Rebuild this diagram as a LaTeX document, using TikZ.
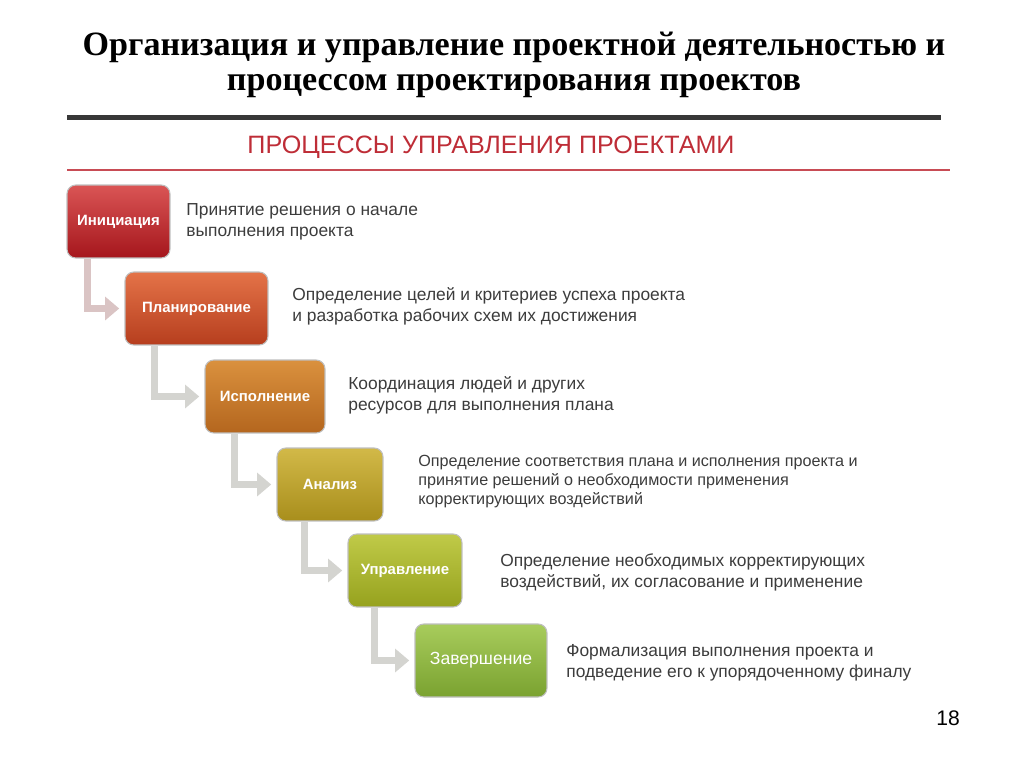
\documentclass[tikz,border=0pt]{standalone}
\usepackage{fontspec}
\setmainfont{Liberation Serif}
\setsansfont{Liberation Sans}
\usetikzlibrary{arrows.meta}
\definecolor{slidered}{RGB}{190,45,55}
\definecolor{desctext}{RGB}{60,60,60}
\definecolor{pinkarrow}{RGB}{218,196,196}
\definecolor{grayarrow}{RGB}{212,212,208}
\begin{document}
\begin{tikzpicture}[x=0.02cm, y=-0.02cm,
    stage/.style={rounded corners=5pt, draw=white!75!black, line width=0.6pt,
        minimum height=1.46cm, inner sep=2pt,
        text=white, font=\sffamily\bfseries\fontsize{8.5}{10}\selectfont},
    desc/.style={anchor=west, align=left, inner sep=0pt, text=desctext,
        font=\sffamily\fontsize{9.9}{12}\selectfont},
    flow/.style={draw=grayarrow, line width=4.4pt, shorten >=3pt,
        -{Triangle[length=8pt, width=13pt]}}]
    \useasboundingbox (0,0) rectangle (1024,767);
    \node (title) at (514,65) [align=center, font=\bfseries\fontsize{19.4}{20}\selectfont]
        {Организация и управление проектной деятельностью и\\процессом проектирования проектов};
    \fill [black!78] (67,115) rectangle (941,120);
    \node (heading) at (491,147) [text=slidered, font=\sffamily\fontsize{14.3}{16}\selectfont]
        {ПРОЦЕССЫ УПРАВЛЕНИЯ ПРОЕКТАМИ};
    \draw [slidered!85, line width=1.3pt] (67,170) -- (950,170);
%   stages
    \node (ini)  at (118.5,221.5) [stage, minimum width=2.06cm,
        top color={rgb,255:red,218;green,85;blue,85}, bottom color={rgb,255:red,165;green,22;blue,28}] {Инициация};
    \node (plan) at (196.5,308.5) [stage, minimum width=2.86cm,
        top color={rgb,255:red,228;green,115;blue,72}, bottom color={rgb,255:red,182;green,62;blue,30}] {Планирование};
    \node (exec) at (265,396.5)   [stage, minimum width=2.40cm,
        top color={rgb,255:red,218;green,145;blue,62}, bottom color={rgb,255:red,180;green,102;blue,30}] {Исполнение};
    \node (anal) at (330,484.5)   [stage, minimum width=2.12cm,
        top color={rgb,255:red,210;green,185;blue,72}, bottom color={rgb,255:red,168;green,142;blue,28}] {Анализ};
    \node (ctrl) at (405,570.5)   [stage, minimum width=2.28cm,
        top color={rgb,255:red,192;green,202;blue,72}, bottom color={rgb,255:red,150;green,162;blue,30}] {Управление};
    \node (fin)  at (481,660.5)   [stage, minimum width=2.64cm, font=\sffamily\fontsize{10}{12}\selectfont,
        top color={rgb,255:red,168;green,204;blue,92}, bottom color={rgb,255:red,122;green,162;blue,48}] {Завершение};
%   arrows
    \draw [flow, draw=pinkarrow] ([xshift=0.42cm]ini.south west) |- (plan.west);
    \draw [flow] ([xshift=0.60cm]plan.south west) |- (exec.west);
    \draw [flow] ([xshift=0.60cm]exec.south west) |- (anal.west);
    \draw [flow] ([xshift=0.56cm]anal.south west) |- (ctrl.west);
    \draw [flow] ([xshift=0.54cm]ctrl.south west) |- (fin.west);
%   descriptions
    \node (d1) at (186,222) [desc] {Принятие решения о начале\\выполнения проекта};
    \node (d2) at (292,306) [desc] {Определение целей и критериев успеха проекта\\и разработка рабочих схем их достижения};
    \node (d3) at (348,395) [desc] {Координация людей и других\\ресурсов для выполнения плана};
    \node (d4) at (418,482) [desc, font=\sffamily\fontsize{9.2}{10.8}\selectfont] {Определение соответствия плана и исполнения проекта и\\принятие решений о необходимости применения\\корректирующих воздействий};
    \node (d5) at (500,572) [desc] {Определение необходимых корректирующих\\воздействий, их согласование и применение};
    \node (d6) at (566,663) [desc] {Формализация выполнения проекта и\\подведение его к упорядоченному финалу};
    \node (page) at (948,718) [font=\sffamily\fontsize{12}{14}\selectfont] {18};
\end{tikzpicture}
\end{document}
